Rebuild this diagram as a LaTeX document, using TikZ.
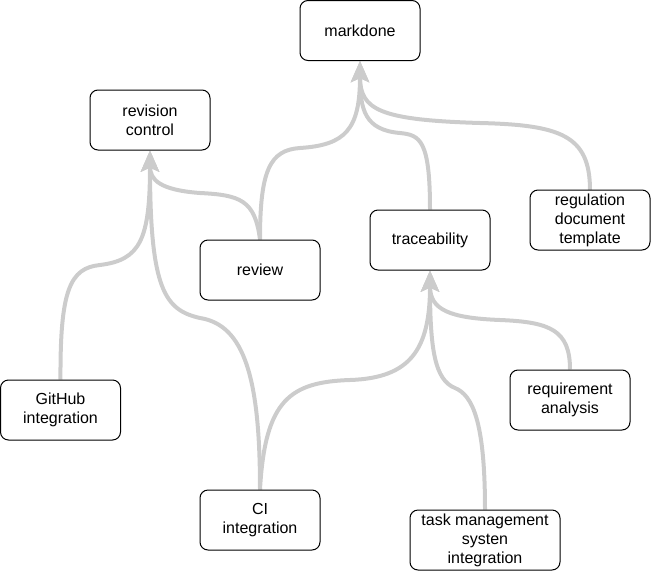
\documentclass[tikz,border=0pt]{standalone}
\usepackage{fontspec}
\setmainfont{Liberation Sans}
\usetikzlibrary{arrows.meta,backgrounds}
\definecolor{edgegray}{RGB}{204,204,204}
\tikzset{
  box/.style={draw=black, line width=1pt, fill=white, rounded corners=8pt,
    minimum width=120pt, minimum height=60pt, inner sep=0pt, align=center,
    font=\fontsize{16pt}{19pt}\selectfont},
  link/.style={draw=edgegray, line width=4pt,
    -{Stealth[length=21pt,width=18pt,inset=4pt,fill=edgegray]}}
}
\begin{document}
\begin{tikzpicture}[x=1pt,y=-1pt]
\useasboundingbox (0,0) rectangle (651,571);
\node[box] (markdone) at (360,30.5) {markdone};
\node[box] (rev) at (150,120) {revision\\control};
\node[box] (review) at (260,270) {review};
\node[box] (trace) at (430,240) {traceability};
\node[box] (reg) at (590,220) {regulation\\document\\template};
\node[box] (github) at (60.5,410) {GitHub\\integration};
\node[box] (ci) at (260,520) {CI\\integration};
\node[box] (req) at (570,400) {requirement\\analysis};
\node[box, minimum width=150pt] (task) at (485,540) {task management\\systen\\integration};
\coordinate (regTop) at (590,190);
\begin{scope}[on background layer]
\draw[link] (review.north) .. controls (260,170) and (270,150) .. (300,148)
  .. controls (345,145) and (360,130) .. (markdone.south);
\draw[link] (trace.north) .. controls (430,140) and (420,135) .. (400,133)
  .. controls (365,130) and (360,110) .. (markdone.south);
\draw[link] (regTop) .. controls (590,135) and (560,125) .. (480,123)
  .. controls (380,120) and (360,110) .. (markdone.south);
\draw[link] (review.north) .. controls (255,200) and (240,195) .. (200,193)
  .. controls (160,190) and (150,180) .. (rev.south);
\draw[link] (github.north) .. controls (60,290) and (70,268) .. (100,265)
  .. controls (140,260) and (150,240) .. (rev.south);
\draw[link] (ci.north) .. controls (260,380) and (245,325) .. (200,318)
  .. controls (165,310) and (150,290) .. (rev.south);
\draw[link] (ci.north) .. controls (265,400) and (290,382) .. (350,380)
  .. controls (410,378) and (430,350) .. (trace.south);
\draw[link] (req.north) .. controls (570,330) and (550,322) .. (500,320)
  .. controls (450,318) and (430,310) .. (trace.south);
\draw[link] (task.north) .. controls (485,420) and (472,395) .. (455,388)
  .. controls (435,380) and (430,350) .. (trace.south);
\end{scope}
\end{tikzpicture}
\end{document}
